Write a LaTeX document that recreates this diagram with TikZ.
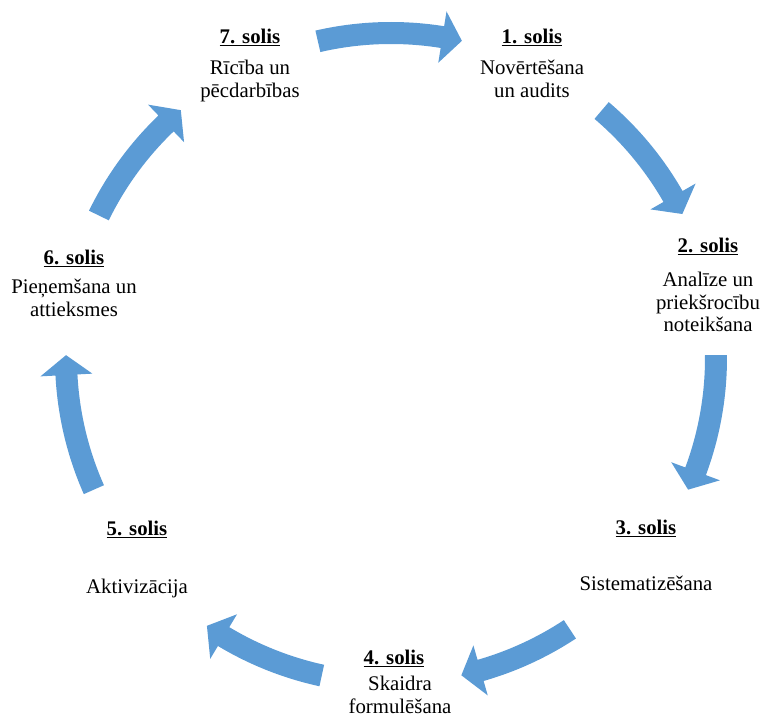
\documentclass[tikz,border=0pt]{standalone}
\usepackage{fontspec}
\setmainfont{Liberation Serif}
\definecolor{stepblue}{HTML}{5B9BD5}
% curved block arrow on the cycle: #1 = tail angle, #2 = tip angle (clockwise)
\newcommand\cyclearrow[2]{%
  \pgfmathsetmacro\headang{#2+3.5}%
  \fill[stepblue]
    ([shift={(C)}]#1:336) arc[start angle=#1, end angle=\headang, radius=336pt]
    -- ([shift={(C)}]\headang:351)
    -- ([shift={(C)}]#2:325)
    -- ([shift={(C)}]\headang:299)
    -- ([shift={(C)}]\headang:314)
    arc[start angle=\headang, end angle=#1, radius=314pt]
    -- cycle;}
\newcommand\stepbodytext[1]{\begin{tabular}[t]{@{}c@{}}#1\end{tabular}}
\begin{document}
\begin{tikzpicture}[x=1pt,y=1pt,
  steptitle/.style={anchor=base, inner sep=0pt,
    font=\fontsize{20.8}{22.5}\selectfont\bfseries},
  stepbody/.style={anchor=base, inner sep=0pt,
    font=\fontsize{20.8}{22.5}\selectfont}]
\useasboundingbox (0,0) rectangle (761,717);
\coordinate (C) at (391,359);

% arrows between the steps
\cyclearrow{103}{77.4}
\cyclearrow{49.6}{26.3}
\cyclearrow{0.5}{-23.9}
\cyclearrow{-56.6}{-77.5}
\cyclearrow{-102.3}{-124.5}
\cyclearrow{203.9}{179.5}
\cyclearrow{154}{130.3}

% step labels
\node[steptitle] (s1h) at (532,673) {\underline{1. solis}};
\node[stepbody]  (s1b) at (532,642) {\stepbodytext{Novērtēšana\\un audits}};

\node[steptitle] (s2h) at (708,464) {\underline{2. solis}};
\node[stepbody]  (s2b) at (708,430) {\stepbodytext{Analīze un\\priekšrocību\\noteikšana}};

\node[steptitle] (s3h) at (646,182) {\underline{3. solis}};
\node[stepbody]  (s3b) at (646,126) {\stepbodytext{Sistematizēšana}};

\node[steptitle] (s4h) at (394,52) {\underline{4. solis}};
\node[stepbody]  (s4b) at (400,26) {\stepbodytext{Skaidra\\formulēšana}};

\node[steptitle] (s5h) at (137,181) {\underline{5. solis}};
\node[stepbody]  (s5b) at (137,123) {\stepbodytext{Aktivizācija}};

\node[steptitle] (s6h) at (74,452) {\underline{6. solis}};
\node[stepbody]  (s6b) at (74,423) {\stepbodytext{Pieņemšana un\\attieksmes}};

\node[steptitle] (s7h) at (250,673) {\underline{7. solis}};
\node[stepbody]  (s7b) at (250,642) {\stepbodytext{Rīcība un\\pēcdarbības}};
\end{tikzpicture}
\end{document}
